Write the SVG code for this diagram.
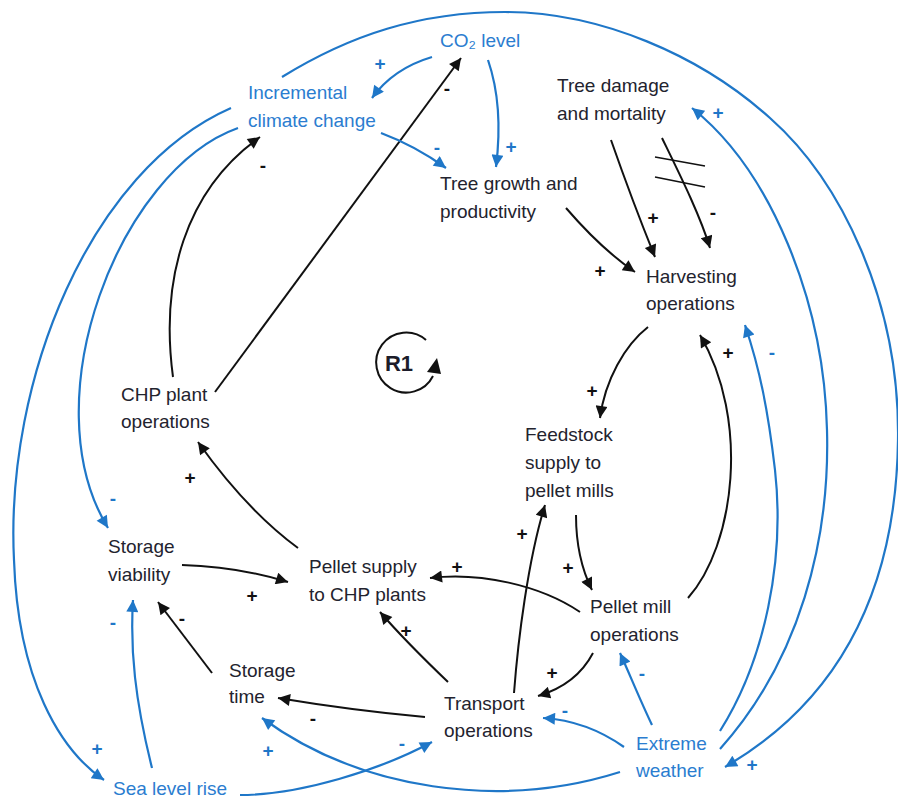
<svg xmlns="http://www.w3.org/2000/svg" width="898" height="800" viewBox="0 0 898 800">
  <style>
    .t { font-family: "Liberation Sans", Arial, sans-serif; font-size: 19px; fill: #23232e; }
    .tb { font-family: "Liberation Sans", Arial, sans-serif; font-size: 19px; fill: #2b7dd0; }
    .lk { fill: none; stroke: #111; stroke-width: 2; marker-end: url(#ak); }
    .lb { fill: none; stroke: #1f77c8; stroke-width: 2.2; marker-end: url(#ab); }
    .pk { font-family: "Liberation Sans", Arial, sans-serif; font-size: 19px; font-weight: bold; fill: #111; text-anchor: middle; dominant-baseline: central; }
    .pb { font-family: "Liberation Sans", Arial, sans-serif; font-size: 19px; font-weight: bold; fill: #1f77c8; text-anchor: middle; dominant-baseline: central; }
  </style>
  <defs>
    <marker id="ak" viewBox="0 0 10 10" refX="10" refY="5" markerUnits="userSpaceOnUse" markerWidth="15" markerHeight="12" orient="auto">
      <path d="M0,0 L10,5 L0,10 z" fill="#111"/>
    </marker>
    <marker id="ab" viewBox="0 0 10 10" refX="10" refY="5" markerUnits="userSpaceOnUse" markerWidth="15" markerHeight="12" orient="auto">
      <path d="M0,0 L10,5 L0,10 z" fill="#1f77c8"/>
    </marker>
  </defs>

  <rect width="898" height="800" fill="#fff"/>

  <g id="connectors">
    <!-- black causal links -->
    <path class="lk" d="M215,392 L461,58"/>
    <path class="lk" d="M173,377 C160,280 185,190 260,137"/>
    <path class="lk" d="M298,548 C260,520 225,480 198,442"/>
    <path class="lk" d="M182,565 C220,566 255,572 288,582"/>
    <path class="lk" d="M212,673 L158,602"/>
    <path class="lk" d="M425,717 C370,712 320,705 278,698"/>
    <path class="lk" d="M448,682 C425,660 400,635 380,612"/>
    <path class="lk" d="M514,693 C518,640 528,560 545,505"/>
    <path class="lk" d="M580,612 C540,585 480,572 430,578"/>
    <path class="lk" d="M593,653 C583,672 565,688 538,696"/>
    <path class="lk" d="M576,515 C576,545 582,570 592,590"/>
    <path class="lk" d="M648,327 C625,345 605,380 600,418"/>
    <path class="lk" d="M688,598 C735,545 750,420 700,335"/>
    <path class="lk" d="M566,208 C585,230 610,255 635,272"/>
    <path class="lk" d="M611,140 C625,180 640,220 655,257"/>
    <path class="lk" d="M662,138 C680,175 700,215 710,248"/>
    <!-- delay marks -->
    <path d="M655,157 L705,166 M655,177 L705,187" stroke="#111" stroke-width="1.6" fill="none"/>

    <!-- blue external links -->
    <path class="lb" d="M432,57 C405,65 385,80 372,98"/>
    <path class="lb" d="M488,60 C500,95 500,135 496,167"/>
    <path class="lb" d="M381,133 C405,142 428,155 446,168"/>
    <path class="lb" d="M238,128 C120,170 30,400 108,528"/>
    <path class="lb" d="M231,108 C90,170 5,380 14,560 C18,680 60,750 104,780"/>
    <path class="lb" d="M282,77 C350,35 420,12 505,12 C600,12 700,55 770,118 C840,180 900,300 898,440 C896,590 840,700 725,767"/>
    <path class="lb" d="M720,749 C800,660 830,540 827,430 C824,300 770,170 692,108"/>
    <path class="lb" d="M720,731 C765,660 785,560 775,470 C768,410 760,370 745,325"/>
    <path class="lb" d="M652,725 C640,700 630,675 620,653"/>
    <path class="lb" d="M624,747 C600,730 575,720 543,718"/>
    <path class="lb" d="M620,772 C500,810 360,790 262,718"/>
    <path class="lb" d="M240,795 C300,795 380,770 432,742"/>
    <path class="lb" d="M152,768 C135,700 130,650 133,600"/>
  </g>

  <!-- polarity labels -->
  <g id="polarities">
    <text class="pb" x="380" y="63">+</text>
    <text class="pb" x="511" y="146">+</text>
    <text class="pb" x="437" y="147">-</text>
    <text class="pb" x="113" y="498">-</text>
    <text class="pb" x="97" y="748">+</text>
    <text class="pb" x="718" y="112">+</text>
    <text class="pb" x="772" y="352">-</text>
    <text class="pb" x="752" y="764">+</text>
    <text class="pb" x="642" y="673">-</text>
    <text class="pb" x="565" y="710">-</text>
    <text class="pb" x="268" y="750">+</text>
    <text class="pb" x="402" y="743">-</text>
    <text class="pb" x="113" y="622">-</text>

    <text class="pk" x="447" y="88">-</text>
    <text class="pk" x="263" y="165">-</text>
    <text class="pk" x="653" y="217">+</text>
    <text class="pk" x="713" y="212">-</text>
    <text class="pk" x="600" y="270">+</text>
    <text class="pk" x="592" y="390">+</text>
    <text class="pk" x="728" y="352">+</text>
    <text class="pk" x="522" y="533">+</text>
    <text class="pk" x="568" y="567">+</text>
    <text class="pk" x="457" y="566">+</text>
    <text class="pk" x="552" y="672">+</text>
    <text class="pk" x="406" y="630">+</text>
    <text class="pk" x="313" y="718">-</text>
    <text class="pk" x="182" y="618">-</text>
    <text class="pk" x="252" y="595">+</text>
    <text class="pk" x="190" y="477">+</text>
  </g>

  <!-- loop marker -->
  <g id="loop-R1">
    <path d="M426,340 A30,30 0 1 0 433,376" fill="none" stroke="#111" stroke-width="2"/>
    <path d="M427,372 L437,358 L441,374 z" fill="#111"/>
    <text x="399" y="371" font-family="Liberation Sans, Arial, sans-serif" font-size="22" font-weight="bold" fill="#1c1c2a" text-anchor="middle">R1</text>
  </g>

  <g id="co2-level"><text class="tb" x="440" y="47">CO₂ level</text></g>
  <g id="incremental-climate-change"><text class="tb" x="248" y="99">Incremental</text><text class="tb" x="248" y="127">climate change</text></g>
  <g id="tree-damage"><text class="t" x="557" y="92">Tree damage</text><text class="t" x="557" y="120">and mortality</text></g>
  <g id="tree-growth"><text class="t" x="440" y="190">Tree growth and</text><text class="t" x="440" y="218">productivity</text></g>
  <g id="harvesting"><text class="t" x="646" y="283">Harvesting</text><text class="t" x="646" y="310">operations</text></g>
  <g id="chp-plant"><text class="t" x="121" y="401">CHP plant</text><text class="t" x="121" y="428">operations</text></g>
  <g id="feedstock"><text class="t" x="525" y="441">Feedstock</text><text class="t" x="525" y="469">supply to</text><text class="t" x="525" y="497">pellet mills</text></g>
  <g id="storage-viability"><text class="t" x="108" y="553">Storage</text><text class="t" x="108" y="581">viability</text></g>
  <g id="pellet-supply"><text class="t" x="309" y="573">Pellet supply</text><text class="t" x="309" y="601">to CHP plants</text></g>
  <g id="pellet-mill"><text class="t" x="590" y="613">Pellet mill</text><text class="t" x="590" y="641">operations</text></g>
  <g id="storage-time"><text class="t" x="229" y="677">Storage</text><text class="t" x="229" y="703">time</text></g>
  <g id="transport"><text class="t" x="444" y="710">Transport</text><text class="t" x="444" y="737">operations</text></g>
  <g id="extreme-weather"><text class="tb" x="636" y="750">Extreme</text><text class="tb" x="636" y="777">weather</text></g>
  <g id="sea-level-rise"><text class="tb" x="113" y="795">Sea level rise</text></g>
</svg>
